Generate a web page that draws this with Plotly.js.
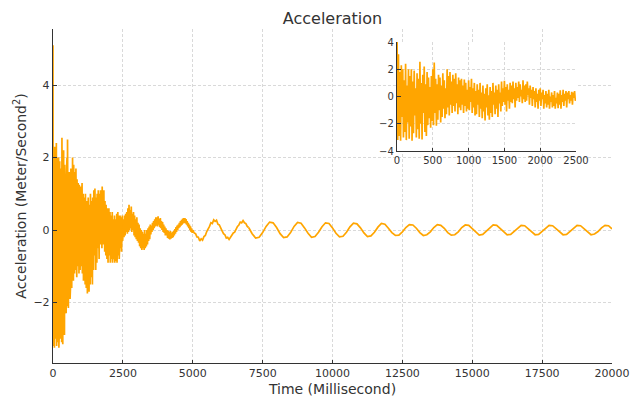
<!DOCTYPE html>
<html>
<head>
<meta charset="utf-8">
<script src="https://cdn.plot.ly/plotly-3.0.1.min.js"></script>
<style>html,body{margin:0;padding:0;background:#fff;}#chart{width:632px;height:399px;}</style>
</head>
<body>
<div id="chart"></div>
<script>
// Time grid of each segment (ms): start and sampling step
var segStartA = 0, segStepA = 10;       // 0 .. 2500
var segStartB = 2500, segStepB = 20;    // 2500 .. 5000
var segStartC1 = 5000, segStepC1 = 50;  // 5000 .. 7000
var segStartC2 = 7000, segStepC2 = 125; // 7000 .. 20000

// Segment A: 0..2500 ms, every 10 ms (noisy start)
var accelA = [
  5.1, -3.2, 3.1, -2.9, 1.8, -3.25, 2.3, -1.5, 2.0, -3.0,
  1.2, -2.6, 2.4, -3.2, 0.8, -1.9, 2.0, -3.1, 1.5, -2.2,
  2.0, -3.25, 1.1, -2.7, 1.9, -1.4, 0.6, -3.0, 1.7, -2.4,
  1.3, -3.1, 2.55, -2.0, 1.0, -3.15, 1.6, -1.2, 2.2, -2.6,
  0.9, -2.9, 1.8, -2.1, 1.4, -1.6, 0.7, -2.3, 1.5, -1.8,
  2.0, -2.1, 2.5, -1.2, 1.3, -2.15, 0.9, -1.7, 1.6, -1.0,
  1.4, -1.9, 0.8, -1.5, 1.7, -0.9, 1.2, -1.6, 0.6, -1.3,
  2.0, -0.8, 1.5, -1.4, 1.8, -0.6, 1.1, -1.2, 1.6, -0.7,
  1.3, -1.1, 1.7, -0.5, 0.9, -1.3, 1.4, -0.8, 1.2, -1.0,
  1.3, -0.6, 0.8, -1.2, 1.25, -0.7, 1.0, -1.1, 0.5, -0.9,
  1.2, -1.0, 0.7, -0.4, 1.3, -1.2, 0.6, -0.8, 1.0, -1.4,
  0.4, -1.3, 0.9, -0.6, 0.5, -1.5, 1.0, -0.9, 0.3, -1.6,
  0.8, -1.1, 0.2, -1.75, 0.6, -0.8, 0.9, -1.4, 0.1, -1.7,
  0.7, -1.2, 0.4, -1.5, 1.0, -0.6, 0.3, -1.3, 0.8, -0.9,
  0.5, -1.5, 0.9, -0.5, 0.3, -1.1, 1.1, -0.7, 0.6, -0.4,
  1.15, -0.6, 0.7, -1.1, 0.9, -0.3, 0.5, -0.9, 1.0, -0.4,
  0.8, -0.5, 1.1, -0.2, 0.6, -0.8, 1.0, -0.3, 0.7, -0.1,
  1.1, -0.4, 0.9, 0.0, 0.5, -0.5, 1.2, -0.2, 0.8, -0.4,
  0.9, -0.3, 1.1, 0.1, 0.6, -0.6, 0.8, -0.1, 0.5, -0.7,
  0.7, -0.2, 0.4, -0.8, 0.6, -0.4, 0.2, -0.9, 0.5, -0.3,
  0.6, -0.7, 0.3, -0.2, 0.5, -0.9, 0.1, -0.5, 0.4, -0.8,
  0.2, -0.6, 0.5, -0.9, 0.0, -0.4, 0.3, -0.8, 0.1, -0.7,
  0.4, -0.9, -0.1, -0.5, 0.3, -0.85, 0.2, -0.6, 0.45, -0.9,
  0.1, -0.4, 0.5, -0.7, 0.2, -0.3, 0.4, -0.8, 0.3, -0.2,
  0.4, -0.5, 0.1, -0.3, 0.35, -0.6, 0.3, -0.1, 0.4, -0.3,
  -0.2
];

// Segment B: 2500..5000 ms, every 20 ms
var accelB = [
  -0.2, 0.3, -0.2, 0.4, -0.15, 0.45, -0.05, 0.5, -0.1, 0.6,
  -0.05, 0.7, 0.0, 0.55, 0.05, 0.65, -0.05, 0.45, 0.0, 0.5,
  -0.15, 0.4, -0.2, 0.3, -0.25, 0.35, -0.3, 0.2, -0.35, 0.15,
  -0.45, 0.05, -0.5, 0.0, -0.55, -0.05, -0.5, -0.1, -0.55, 0.0,
  -0.5, -0.1, -0.45, 0.0, -0.4, 0.05, -0.3, 0.1, -0.25, 0.15,
  -0.12, 0.12, -0.05, 0.2, 0.0, 0.25, 0.05, 0.3, 0.1, 0.35,
  0.12, 0.35, 0.1, 0.38, 0.15, 0.3, 0.08, 0.33, 0.05, 0.25,
  0.0, 0.22, -0.05, 0.15, -0.08, 0.1, -0.15, 0.05, -0.15, 0.0,
  -0.22, -0.02, -0.24, -0.05, -0.26, -0.03, -0.24, -0.08, -0.22, -0.05,
  -0.2, -0.02, -0.15, 0.03, -0.1, 0.08, -0.05, 0.12, 0.0, 0.15,
  0.05, 0.2, 0.08, 0.25, 0.12, 0.28, 0.15, 0.32, 0.18, 0.33,
  0.2, 0.33, 0.18, 0.3, 0.15, 0.25, 0.1, 0.2, 0.05, 0.15,
  0.0, 0.1, -0.05, 0.05, -0.08,
  0.0
];

// Segment C1: 5000..7000 ms, every 50 ms
var accelC1 = [
  0.0, -0.08, -0.1, -0.19, -0.2, -0.3, -0.24, -0.28, -0.18, -0.15,
  -0.04, 0.02, 0.1, 0.2, 0.18, 0.28, 0.24, 0.27, 0.16, 0.14,
  0.04, -0.02, -0.1, -0.13, -0.22, -0.2, -0.26, -0.2, -0.17, -0.08,
  -0.06, 0.05, 0.1, 0.14, 0.22, 0.2, 0.26, 0.2, 0.18, 0.1,
  0.07
];

// Segment C2: 7000..20000 ms, every 125 ms (settled oscillation)
var accelC2 = [
  0.07, -0.10, -0.22, -0.20, -0.07, 0.10, 0.22, 0.20,
  0.07, -0.10, -0.21, -0.19, -0.07, 0.10, 0.21, 0.19,
  0.06, -0.09, -0.20, -0.18, -0.06, 0.09, 0.20, 0.18,
  0.06, -0.09, -0.19, -0.17, -0.06, 0.09, 0.19, 0.17,
  0.06, -0.08, -0.18, -0.16, -0.06, 0.08, 0.18, 0.16,
  0.05, -0.07, -0.15, -0.14, -0.05, 0.07, 0.15, 0.14,
  0.05, -0.07, -0.15, -0.13, -0.05, 0.07, 0.15, 0.13,
  0.05, -0.07, -0.14, -0.13, -0.05, 0.07, 0.14, 0.13,
  0.04, -0.06, -0.14, -0.12, -0.04, 0.06, 0.14, 0.13,
  0.04, -0.06, -0.13, -0.12, -0.04, 0.06, 0.13, 0.12,
  0.04, -0.06, -0.13, -0.12, -0.04, 0.06, 0.13, 0.12,
  0.04, -0.06, -0.13, -0.12, -0.04, 0.06, 0.13, 0.12,
  0.04, -0.06, -0.13, -0.11, -0.04, 0.06, 0.13, 0.12,
  0.03
];

var mainXTicks = [0, 2500, 5000, 7500, 10000, 12500, 15000, 17500, 20000];
var mainYTicks = [-2, 0, 2, 4];
var insetXTicks = [0, 500, 1000, 1500, 2000, 2500];
var insetYTicks = [-4, -2, 0, 2, 4];

var lineColor = '#FFA500';
function seg(y, x0, dx, xa, ya) {
  return {type: 'scatter', mode: 'lines', y: y, x0: x0, dx: dx,
    xaxis: xa, yaxis: ya, line: {color: lineColor, width: 1.7},
    hoverinfo: 'skip', showlegend: false};
}

var data = [
  seg(accelA, segStartA, segStepA, 'x', 'y'),
  seg(accelB, segStartB, segStepB, 'x', 'y'),
  seg(accelC1, segStartC1, segStepC1, 'x', 'y'),
  seg(accelC2, segStartC2, segStepC2, 'x', 'y'),
  seg(accelA, segStartA, segStepA, 'x2', 'y2')
];

var fam = 'DejaVu Sans, sans-serif';
var gridStyle = {showgrid: true, gridcolor: '#cfcfcf', gridwidth: 0.8, griddash: '3px,2px',
  zeroline: false, showline: true, linecolor: '#333', linewidth: 1.2,
  ticks: 'inside', ticklen: 3.5, tickcolor: '#333', tickwidth: 1, mirror: false};

var layout = {
  width: 632, height: 399,
  paper_bgcolor: '#fff', plot_bgcolor: '#fff',
  margin: {l: 53, r: 20, t: 29, b: 36, pad: 0},
  font: {family: fam, color: '#333', size: 11},
  showlegend: false,
  title: {text: 'Acceleration', font: {size: 16, color: '#333', family: fam},
    x: 0.5, xref: 'paper', xanchor: 'center', y: 0.955, yref: 'container', yanchor: 'middle'},
  xaxis: Object.assign({}, gridStyle, {domain: [0, 1], range: [0, 20000], tickvals: mainXTicks,
    ticktext: mainXTicks.map(String), tickfont: {size: 11},
    title: {text: 'Time (Millisecond)', font: {size: 14}, standoff: 4}}),
  yaxis: Object.assign({}, gridStyle, {domain: [0, 1], range: [-3.67, 5.55], tickvals: mainYTicks,
    tickfont: {size: 11},
    title: {text: 'Acceleration (Meter/Second<sup>2</sup>)', font: {size: 14}, standoff: 3}}),
  xaxis2: Object.assign({}, gridStyle, {domain: [0.6154, 0.9356], range: [0, 2500], anchor: 'y2',
    tickvals: insetXTicks, ticktext: insetXTicks.map(String), tickfont: {size: 10}}),
  yaxis2: Object.assign({}, gridStyle, {domain: [0.6347, 0.961], range: [-4, 4], anchor: 'x2',
    tickvals: insetYTicks, tickfont: {size: 10}})
};

Plotly.newPlot('chart', data, layout, {staticPlot: true, displayModeBar: false});
</script>
</body>
</html>
